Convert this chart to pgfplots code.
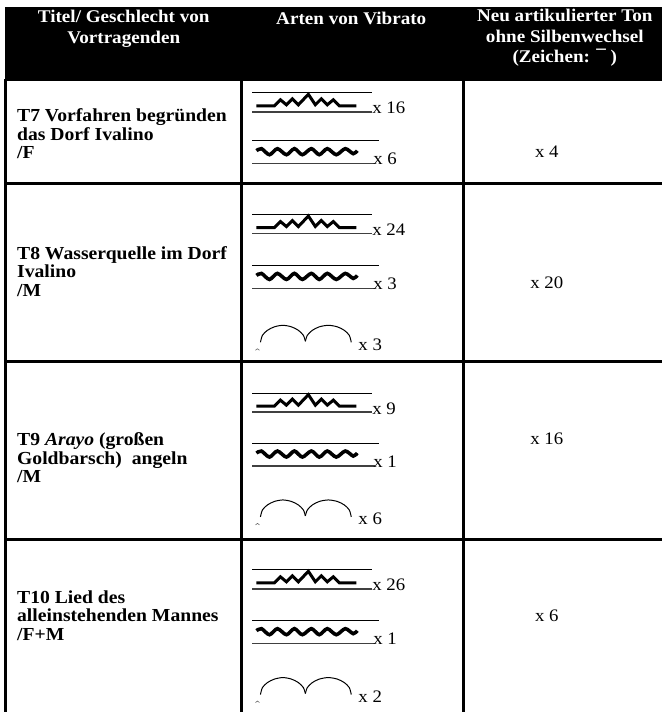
\documentclass[border=0pt]{standalone}
\usepackage{fontspec}
\setmainfont{Liberation Serif}[FakeStretch=1.07]
\usepackage{pgfplots}
\usepackage{pgfplotstable}
\pgfplotsset{compat=1.18}

% symbol shapes (x absolute, y relative to symbol top line)
\pgfplotstableread{
x y
253 0
373 0
}\zigtop
\pgfplotstableread{
x y
253 19
373 19
}\zigbot
\pgfplotstableread{
x y
257 13
275 13
281 7
287 12
293 6
299 12
309 1.5
316 12
322 6
328 12
334 7
340 13
357 13
}\zigline
\pgfplotstableread{
x y
253 0
380 0
}\wavtop
\pgfplotstableread{
x y
253 23
376 23
}\wavbot
\pgfplotstableread{
x y
257 10
262 8
270 14
278 8
287 14
295 8
303 14
312 8
320 14
328 8
337 14
346 8
354 13
358 10
}\wavline
\pgfplotstableread{
x y
261 17
263 10
268 5
275 1.5
283.5 0
292 1.5
299 5
304 10
306 16
}\arcA
\pgfplotstableread{
x y
306 16
308 10
313 5
320 1.5
329 0
338 1.5
345 5
350 10
352 17
}\arcB
\pgfplotstableread{
x y
256 25
258 23.5
260 25
}\arcmark

\newcommand{\zigsym}[3]{%
 \addplot[black, line width=0.8pt] table[y expr=\thisrow{y}+#1]{\zigtop};
 \addplot[black!75, line width=1.5pt] table[y expr=\thisrow{y}+#1]{\zigbot};
 \addplot[black, line width=3pt, line join=miter] table[y expr=\thisrow{y}+#1]{\zigline};
 \node[cnt, anchor=base west] at (axis cs:373,#2) {x #3};
}
\newcommand{\wavsym}[3]{%
 \addplot[black, line width=0.8pt] table[y expr=\thisrow{y}+#1]{\wavtop};
 \addplot[black!75, line width=1.5pt] table[y expr=\thisrow{y}+#1]{\wavbot};
 \addplot[black, line width=3.6pt, smooth] table[y expr=\thisrow{y}+#1]{\wavline};
 \node[cnt, anchor=base west] at (axis cs:374,#2) {x #3};
}
\newcommand{\arcsym}[3]{%
 \addplot[black, line width=1pt, smooth] table[y expr=\thisrow{y}+#1]{\arcA};
 \addplot[black, line width=1pt, smooth] table[y expr=\thisrow{y}+#1]{\arcB};
 \addplot[black!60, line width=0.6pt] table[y expr=\thisrow{y}+#1]{\arcmark};
 \node[cnt, anchor=base west] at (axis cs:359,#2) {x #3};
}

\begin{document}
\begin{tikzpicture}[
  cnt/.style={inner sep=0pt, font=\fontsize{17.6}{19}\selectfont},
  ttl/.style={inner sep=0pt, anchor=west, align=left, font=\bfseries\fontsize{18.4}{18.6}\selectfont},
  hdr/.style={inner sep=0pt, align=center, text=white, font=\bfseries\fontsize{17.9}{20.5}\selectfont}]
\begin{axis}[x=1pt, y=1pt, xmin=0, xmax=663, ymin=0, ymax=713, y dir=reverse,
  hide axis, clip=false, scale only axis]
% page background
\addplot[fill=white, draw=none] coordinates {(0,0)(663,0)(663,713)(0,713)} -- cycle;
% header band
\addplot[fill=black, draw=none] coordinates {(5,7)(663,7)(663,81)(5,81)} -- cycle;
% grid lines
\addplot[black, line width=3pt] coordinates {(6,79)(6,713)};
\addplot[black, line width=3pt] coordinates {(242.5,79)(242.5,713)};
\addplot[black, line width=3pt] coordinates {(464,79)(464,713)};
\addplot[black, line width=3pt] coordinates {(5,184)(663,184)};
\addplot[black, line width=3pt] coordinates {(5,362)(663,362)};
\addplot[black, line width=3pt] coordinates {(5,541)(663,541)};

% header
\node[hdr] at (axis cs:124,29) {Titel/ Geschlecht von\\Vortragenden};
\node[hdr] at (axis cs:352,18) {Arten von Vibrato};
\node[hdr] at (axis cs:566,38) {Neu artikulierter Ton\\ohne Silbenwechsel\\(Zeichen: ¯ )};

% column 1
\node[ttl] at (axis cs:17,134) {T7 Vorfahren begründen\\das Dorf Ivalino\\/F};
\node[ttl] at (axis cs:17,272) {T8 Wasserquelle im Dorf\\Ivalino\\/M};
\node[ttl] at (axis cs:17,459) {T9 \textit{Arayo} (großen\\Goldbarsch)\ \ angeln\\/M};
\node[ttl] at (axis cs:17,617) {T10 Lied des\\alleinstehenden Mannes\\/F+M};

% column 2 : vibrato types with counts
\zigsym{93}{114}{16}
\wavsym{141}{165}{6}
\zigsym{215}{236}{24}
\wavsym{266}{290}{3}
\arcsym{326}{351}{3}
\zigsym{394}{415}{9}
\wavsym{444}{468}{1}
\arcsym{501}{526}{6}
\zigsym{571}{592}{26}
\wavsym{622}{646}{1}
\arcsym{679}{704}{2}

% column 3
\node[cnt] at (axis cs:548,152) {x 4};
\node[cnt] at (axis cs:548,283) {x 20};
\node[cnt] at (axis cs:548,440) {x 16};
\node[cnt] at (axis cs:548,617) {x 6};
\end{axis}
\end{tikzpicture}
\end{document}
